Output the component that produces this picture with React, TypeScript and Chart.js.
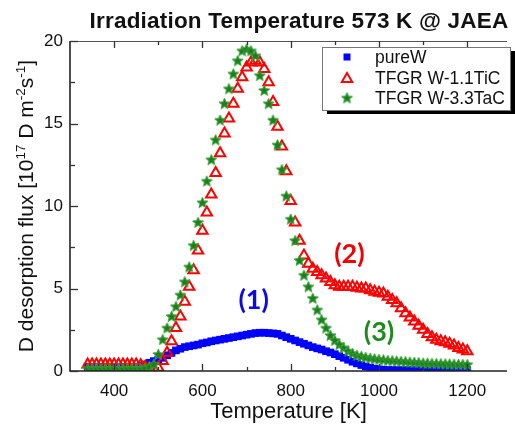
import React, { useEffect, useRef } from 'react';
import { Chart, registerables } from 'chart.js';

Chart.register(...registerables);

// Temperature grid [K]
const temperatureK = [
  340, 350, 360, 370, 380, 390, 400, 410, 420, 430, 440, 450, 460, 470, 480, 490,
  500, 510, 520, 530, 540, 550, 560, 570, 580, 590, 600, 610, 620, 630, 640, 650,
  660, 670, 680, 690, 700, 710, 720, 730, 740, 750, 760, 770, 780, 790, 800, 810,
  820, 830, 840, 850, 860, 870, 880, 890, 900, 910, 920, 930, 940, 950, 960, 970,
  980, 990, 1000, 1010, 1020, 1030, 1040, 1050, 1060, 1070, 1080, 1090, 1100, 1110,
  1120, 1130, 1140, 1150, 1160, 1170, 1180, 1190, 1200,
];

// D desorption flux [1e17 D m^-2 s^-1]
const pureW = [
  0.25, 0.25, 0.25, 0.25, 0.25, 0.25, 0.25, 0.25, 0.25, 0.25, 0.25, 0.25, 0.3, 0.4, 0.5, 0.6,
  0.7, 0.8, 0.95, 1.1, 1.25, 1.35, 1.45, 1.5, 1.55, 1.6, 1.68, 1.73, 1.8, 1.85, 1.9, 1.95,
  2.0, 2.05, 2.1, 2.15, 2.2, 2.25, 2.3, 2.32, 2.32, 2.3, 2.28, 2.25, 2.15, 2.05, 1.95, 1.85,
  1.75, 1.65, 1.55, 1.45, 1.37, 1.3, 1.2, 1.12, 1.02, 0.9, 0.8, 0.68, 0.56, 0.46, 0.36, 0.27,
  0.2, 0.14, 0.1, 0.08, 0.06, 0.06, 0.06, 0.06, 0.06, 0.06, 0.06, 0.06, 0.06, 0.06,
  0.06, 0.06, 0.06, 0.06, 0.06, 0.06, 0.06, 0.06, 0.06,
];

const tfgrTiC = [
  0.4, 0.4, 0.4, 0.4, 0.4, 0.4, 0.4, 0.4, 0.4, 0.4, 0.4, 0.4, 0.35, 0.25, 0.15, 0.12,
  0.2, 0.6, 1.1, 1.8, 2.6, 3.3, 4.2, 5.1, 6.1, 7.3, 8.5, 9.6, 10.7, 12.0, 13.2, 14.4,
  15.3, 16.2, 17.1, 17.8, 18.4, 18.7, 18.8, 18.7, 18.3, 17.5, 16.3, 14.8, 13.6, 12.1, 10.3, 9.0,
  7.9, 7.0, 6.5, 6.2, 6.0, 5.8, 5.6, 5.4, 5.2, 5.1, 5.1, 5.1, 5.1, 5.05, 5.0, 5.0,
  4.9, 4.8, 4.75, 4.7, 4.5, 4.3, 4.1, 3.8, 3.5, 3.25, 3.0, 2.75, 2.5, 2.25,
  2.05, 1.9, 1.8, 1.75, 1.65, 1.55, 1.4, 1.3, 1.2,
];

const tfgrTaC = [
  0.15, 0.15, 0.15, 0.15, 0.15, 0.15, 0.15, 0.15, 0.15, 0.15, 0.15, 0.15, 0.15, 0.17, 0.25, 0.4,
  1.0, 1.9, 2.6, 3.3, 3.9, 4.6, 5.4, 6.3, 7.6, 9.0, 10.2, 11.5, 12.8, 14.0, 15.2, 16.2,
  17.1, 18.0, 18.8, 19.4, 19.5, 19.4, 19.1, 17.9, 17.0, 16.2, 15.2, 13.7, 12.2, 10.6, 9.2, 7.9,
  6.7, 5.8, 5.1, 4.4, 3.7, 3.1, 2.6, 2.15, 1.85, 1.6, 1.4, 1.2, 1.05, 0.95, 0.88, 0.82,
  0.77, 0.73, 0.7, 0.67, 0.64, 0.62, 0.6, 0.58, 0.56, 0.54, 0.52, 0.5, 0.48, 0.47,
  0.46, 0.45, 0.44, 0.43, 0.42, 0.41, 0.4, 0.4, 0.39,
];

const seriesNames = ['pureW', 'TFGR W-1.1TiC', 'TFGR W-3.3TaC'];
const xTickLabels = [400, 600, 800, 1000, 1200];
const xMinorTicks = [500, 700, 900, 1100];
const yTickLabels = [0, 5, 10, 15, 20];
const yMinorTicks = [2.5, 7.5, 12.5, 17.5];

const titleText = 'Irradiation Temperature 573 K @ JAEA';
const xTitle = 'Temperature [K]';
const yTitleParts: [string, boolean][] = [
  ['D desorption flux [10', false],
  ['17', true],
  [' D m', false],
  ['-2', true],
  ['s', false],
  ['-1', true],
  [']', false],
];

const peakLabels = [
  { text: '(1)', x: 716, y: 4.3, color: '#0a0ae6' },
  { text: '(2)', x: 933, y: 7.1, color: '#f00000' },
  { text: '(3)', x: 1000, y: 2.35, color: '#1f8a1f' },
];

const FONT = '"Liberation Sans", Arial, sans-serif';

function makeStar(): HTMLCanvasElement {
  const c = document.createElement('canvas');
  c.width = 13;
  c.height = 13;
  const g = c.getContext('2d')!;
  const cx = 6.5, cy = 6.8, R = 5.8, r = 2.5;
  g.beginPath();
  for (let i = 0; i < 10; i++) {
    const rad = -Math.PI / 2 + (i * Math.PI) / 5;
    const rr = i % 2 === 0 ? R : r;
    const px = cx + Math.cos(rad) * rr;
    const py = cy + Math.sin(rad) * rr;
    if (i === 0) g.moveTo(px, py);
    else g.lineTo(px, py);
  }
  g.closePath();
  g.fillStyle = '#1e7d1e';
  g.fill();
  g.strokeStyle = '#3aa53a';
  g.lineWidth = 1;
  g.stroke();
  return c;
}

export default function App() {
  const ref = useRef<HTMLCanvasElement | null>(null);

  useEffect(() => {
    if (!ref.current) return;
    const star = makeStar();

    const decorPlugin = {
      id: 'decor',
      afterDatasetsDraw(chart: any) {
        const { ctx, scales } = chart;
        ctx.save();
        ctx.font = `bold 27px Lato, ${FONT}`;
        ctx.textAlign = 'center';
        ctx.textBaseline = 'middle';
        for (const l of peakLabels) {
          ctx.fillStyle = l.color;
          ctx.fillText(l.text, scales.x.getPixelForValue(l.x), scales.y.getPixelForValue(l.y));
        }
        ctx.restore();
      },
      afterDraw(chart: any) {
        const { ctx, chartArea: ca, scales } = chart;
        const xs = scales.x, ys = scales.y;
        ctx.save();
        // title
        ctx.save();
        ctx.font = `bold 22.5px ${FONT}`;
        try { (ctx as any).letterSpacing = '0.2px'; } catch (e) {}
        ctx.fillStyle = '#111';
        ctx.textAlign = 'center';
        ctx.textBaseline = 'alphabetic';
        ctx.fillText(titleText, 299, 28);
        ctx.restore();
        // frame
        ctx.strokeStyle = '#555';
        ctx.lineWidth = 1;
        ctx.beginPath();
        ctx.moveTo(ca.left, ca.top + 0.5);
        ctx.lineTo(ca.right, ca.top + 0.5);
        ctx.stroke();
        ctx.strokeStyle = '#222';
        ctx.lineWidth = 1.6;
        ctx.beginPath();
        ctx.moveTo(ca.left, ca.top);
        ctx.lineTo(ca.left, ca.bottom);
        ctx.lineTo(ca.right, ca.bottom);
        ctx.stroke();
        // ticks
        ctx.lineWidth = 1.3;
        ctx.strokeStyle = '#333';
        const xt = [...xTickLabels.map((v) => [v, 7]), ...xMinorTicks.map((v) => [v, 4])];
        for (const [v, len] of xt) {
          const px = Math.round(xs.getPixelForValue(v)) + 0.5;
          ctx.beginPath();
          ctx.moveTo(px, ca.bottom);
          ctx.lineTo(px, ca.bottom - len);
          ctx.moveTo(px, ca.top);
          ctx.lineTo(px, ca.top + len);
          ctx.stroke();
        }
        const yt = [...yTickLabels.map((v) => [v, 8]), ...yMinorTicks.map((v) => [v, 5])];
        for (const [v, len] of yt) {
          const py = Math.round(ys.getPixelForValue(v)) + 0.5;
          ctx.beginPath();
          ctx.moveTo(ca.left, py);
          ctx.lineTo(ca.left + len, py);
          ctx.stroke();
        }
        // y-axis title with superscripts
        ctx.save();
        const mainFont = `21px ${FONT}`;
        const supFont = `13.5px ${FONT}`;
        let total = 0;
        for (const [t, sup] of yTitleParts) {
          ctx.font = sup ? supFont : mainFont;
          total += ctx.measureText(t).width;
        }
        const cy = (ca.top + ca.bottom) / 2;
        ctx.translate(33, cy);
        ctx.rotate(-Math.PI / 2);
        ctx.fillStyle = '#111';
        ctx.textBaseline = 'alphabetic';
        ctx.textAlign = 'left';
        let cx = -total / 2;
        for (const [t, sup] of yTitleParts) {
          ctx.font = sup ? supFont : mainFont;
          ctx.fillText(t, cx, sup ? -8.5 : 0);
          cx += ctx.measureText(t).width;
        }
        ctx.restore();
        // legend
        const lx = 322, ly = 47, lw = 188, lh = 63;
        ctx.fillStyle = '#000';
        ctx.fillRect(lx + 5, ly + 4, lw, lh);
        ctx.fillStyle = '#fff';
        ctx.fillRect(lx, ly, lw, lh);
        ctx.strokeStyle = '#777';
        ctx.lineWidth = 1;
        ctx.strokeRect(lx + 0.5, ly + 0.5, lw, lh);
        const rows = [57, 78, 98];
        const mx = 347;
        ctx.fillStyle = '#0000ff';
        ctx.fillRect(mx - 3.5, rows[0] - 3.5, 7, 7);
        ctx.strokeStyle = '#ff0000';
        ctx.lineWidth = 2;
        ctx.beginPath();
        const r = 6;
        for (let i = 0; i < 3; i++) {
          const a = -Math.PI / 2 + (i * 2 * Math.PI) / 3;
          const px = mx + Math.cos(a) * r;
          const py = rows[1] + 1 + Math.sin(a) * r;
          if (i === 0) ctx.moveTo(px, py);
          else ctx.lineTo(px, py);
        }
        ctx.closePath();
        ctx.stroke();
        ctx.drawImage(star, mx - 6.5, rows[2] - 6.5);
        ctx.fillStyle = '#111';
        ctx.font = `17.5px ${FONT}`;
        ctx.textAlign = 'left';
        ctx.textBaseline = 'middle';
        seriesNames.forEach((n, i) => ctx.fillText(n, 375, rows[i] + 1));
        ctx.restore();
      },
    };

    const chart = new Chart(ref.current, {
      type: 'scatter',
      data: {
        datasets: [
          {
            label: seriesNames[0],
            data: temperatureK.map((t, i) => ({ x: t, y: pureW[i] })),
            pointStyle: 'rect',
            pointRadius: 5.4,
            backgroundColor: '#0000ff',
            borderColor: '#0000ff',
            borderWidth: 0,
            order: 3,
          },
          {
            label: seriesNames[1],
            data: temperatureK.map((t, i) => ({ x: t, y: tfgrTiC[i] })),
            pointStyle: 'triangle',
            pointRadius: 6,
            backgroundColor: 'rgba(0,0,0,0)',
            borderColor: '#ff0000',
            borderWidth: 2,
            order: 2,
          },
          {
            label: seriesNames[2],
            data: temperatureK.map((t, i) => ({ x: t, y: tfgrTaC[i] })),
            pointStyle: star as any,
            pointRadius: 6,
            backgroundColor: '#1e7d1e',
            borderColor: '#1e7d1e',
            order: 1,
          },
        ],
      },
      options: {
        responsive: false,
        animation: false,
        layout: { padding: { top: 41, left: 0, right: 0, bottom: 0 } },
        plugins: {
          legend: { display: false },
          tooltip: { enabled: false },
          title: { display: false },
        },
        scales: {
          x: {
            type: 'linear',
            min: 300,
            max: 1290,
            afterFit: (s: any) => {
              s.height = 54;
            },
            afterBuildTicks: (s: any) => {
              s.ticks = xTickLabels.map((v) => ({ value: v }));
            },
            grid: { display: false, drawTicks: false },
            border: { display: false },
            ticks: {
              color: '#111',
              font: { family: FONT, size: 17 },
              padding: 10,
              maxRotation: 0,
              autoSkip: false,
              callback: (v: any) => String(v),
            },
            title: {
              display: true,
              text: xTitle,
              color: '#111',
              font: { family: FONT, size: 22 },
              padding: { top: 0, bottom: 0 },
            },
          },
          y: {
            type: 'linear',
            min: 0,
            max: 20,
            afterFit: (s: any) => {
              s.width = 70;
            },
            afterBuildTicks: (s: any) => {
              s.ticks = yTickLabels.map((v) => ({ value: v }));
            },
            grid: { display: false, drawTicks: false },
            border: { display: false },
            ticks: {
              color: '#111',
              font: { family: FONT, size: 17 },
              padding: 7,
              autoSkip: false,
              callback: (v: any) => String(v),
            },
          },
        },
      },
      plugins: [decorPlugin],
    } as any);

    return () => chart.destroy();
  }, []);

  return (
    <div style={{ position: 'absolute', left: 0, top: 0, width: 515, height: 425, background: '#fff' }}>
      <canvas ref={ref} width={515} height={425} style={{ display: 'block' }} />
    </div>
  );
}
